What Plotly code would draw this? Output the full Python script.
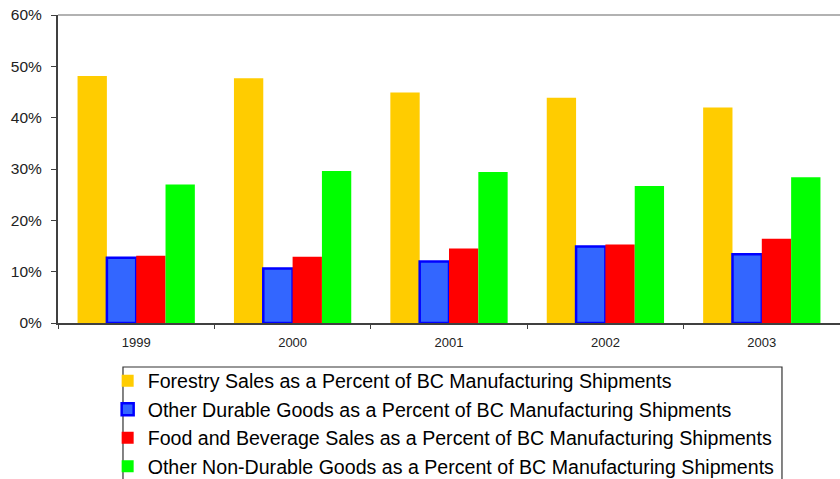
import plotly.graph_objects as go

years = ["1999", "2000", "2001", "2002", "2003"]
forestry = [48.1, 47.7, 44.9, 43.9, 42.0]
other_durable = [12.7, 10.6, 12.0, 14.9, 13.4]
food_bev = [13.1, 12.9, 14.5, 15.3, 16.4]
other_nondurable = [27.0, 29.6, 29.4, 26.7, 28.4]

series = [
    ("Forestry Sales as a Percent of BC Manufacturing Shipments", forestry, "#FFCC00", None),
    ("Other Durable Goods as a Percent of BC Manufacturing Shipments", other_durable, "#3366FF", "#0000FF"),
    ("Food and Beverage Sales as a Percent of BC Manufacturing Shipments", food_bev, "#FF0000", None),
    ("Other Non-Durable Goods as a Percent of BC Manufacturing Shipments", other_nondurable, "#00FF00", None),
]

fig = go.Figure()
for i, (name, vals, color, line) in enumerate(series):
    fig.add_trace(go.Bar(
        x=years, y=[v / 100 for v in vals], name=name,
        legendgroup=f"g{i}",
        marker=dict(color=color,
                    line=dict(color=line if line else color, width=2.5 if line else 0)),
    ))

fig.update_layout(
    width=840, height=479,
    margin=dict(l=58, r=0, t=15, b=156, autoexpand=False),
    paper_bgcolor="white", plot_bgcolor="white",
    barmode="group", bargap=0.25, bargroupgap=0,
    font=dict(family="Liberation Sans, Arial, sans-serif", color="black"),
    showlegend=True,
    legend=dict(
        x=0.0635, y=-0.125, xanchor="left", yanchor="top",
        borderwidth=0, bgcolor="rgba(0,0,0,0)",
        font=dict(size=19.6, color="black"),
        traceorder="grouped", tracegroupgap=0,
    ),
    xaxis=dict(
        type="category", showline=True, linecolor="#404040", linewidth=2,
        ticks="outside", tickson="boundaries", ticklen=4, tickcolor="#404040",
        tickfont=dict(size=13, color="#222222"), showgrid=False,
        ticklabelstandoff=6,
    ),
    yaxis=dict(
        range=[0, 0.6], dtick=0.1, tickformat=".0%",
        showline=True, linecolor="#404040", linewidth=2,
        ticks="outside", ticklen=5, tickcolor="#404040",
        tickfont=dict(size=15.5, color="#222222"), showgrid=False, zeroline=False,
        ticklabelstandoff=6,
    ),
    shapes=[
        dict(type="line", xref="paper", yref="paper", x0=0, x1=1, y0=1, y1=1,
             line=dict(color="#999999", width=1.5)),
        dict(type="rect", xref="paper", yref="paper",
             x0=0.0831, x1=0.9258, y0=-0.1429, y1=-0.56,
             line=dict(color="#333333", width=1.2)),
    ],
)

fig.write_html("out.html")
